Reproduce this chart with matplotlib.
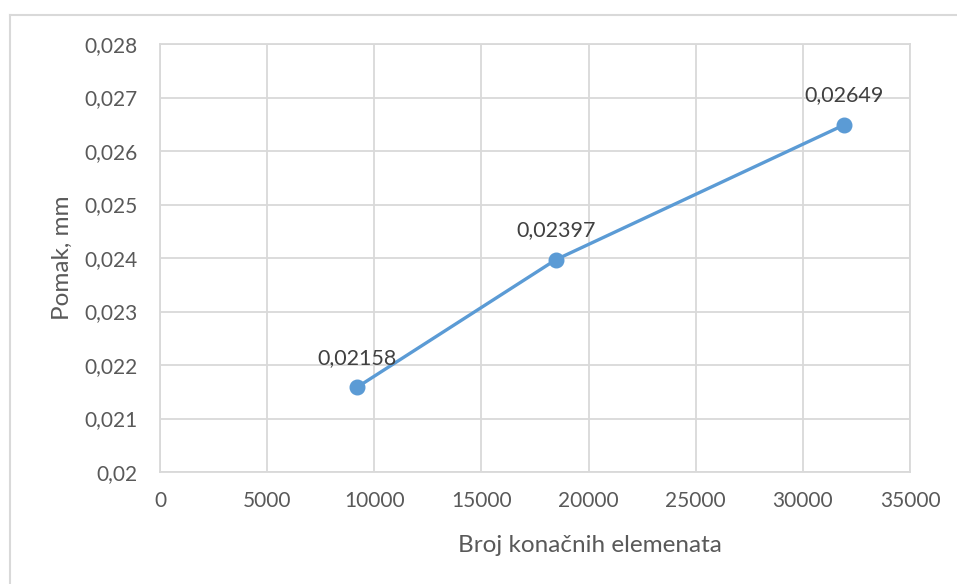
import matplotlib
matplotlib.use('Agg')
import matplotlib.pyplot as plt
from matplotlib.ticker import FuncFormatter, MultipleLocator

# data
broj_elemenata = [9180, 18480, 31940]
pomak = [0.02158, 0.02397, 0.02649]
labels = ['0,02158', '0,02397', '0,02649']

plt.rcParams['font.family'] = ['Lato', 'DejaVu Sans']

fig = plt.figure(figsize=(9.57, 5.84), dpi=100)
ax = fig.add_axes([160 / 957, 1 - 472 / 584, 750 / 957, 428 / 584])

ax.plot(broj_elemenata, pomak, color='#5b9bd5', linewidth=2.4,
        marker='o', markersize=10.5, zorder=3)
for x, y, t in zip(broj_elemenata, pomak, labels):
    ax.annotate(t, (x, y), xytext=(0, 14), textcoords='offset points',
                ha='center', va='bottom', fontsize=15.5, color='#404040')

ax.set_xlim(0, 35000)
ax.set_ylim(0.02, 0.028)
ax.xaxis.set_major_locator(MultipleLocator(5000))
ax.yaxis.set_major_locator(MultipleLocator(0.001))
ax.yaxis.set_major_formatter(FuncFormatter(
    lambda v, p: ('%.3f' % v).rstrip('0').replace('.', ',') if round(v, 3) != 0.02 else '0,02'))
ax.grid(True, color='#d9d9d9', linewidth=1.3)
ax.set_axisbelow(True)
for s in ax.spines.values():
    s.set_color('#d9d9d9')
    s.set_linewidth(1.3)
ax.tick_params(length=0, labelsize=15, labelcolor='#595959')
ax.tick_params(axis='x', pad=14)
ax.tick_params(axis='y', pad=16)

ax.set_xlabel('Broj konačnih elemenata', fontsize=17.5, color='#595959', va='center')
ax.set_ylabel('Pomak, mm', fontsize=17.5, color='#595959', va='center')
ax.xaxis.set_label_coords((590 - 160) / 750, (472 - 545) / 428)
ax.yaxis.set_label_coords((62 - 160) / 750, 0.5)

# outer chart border (only top and left visible in the crop)
fig.add_artist(plt.Line2D([10 / 957, 1], [1 - 15 / 584] * 2, color='#d9d9d9', linewidth=1.5))
fig.add_artist(plt.Line2D([10 / 957] * 2, [0, 1 - 15 / 584], color='#d9d9d9', linewidth=1.5))

fig.savefig('out.png', dpi=100, facecolor='white')
